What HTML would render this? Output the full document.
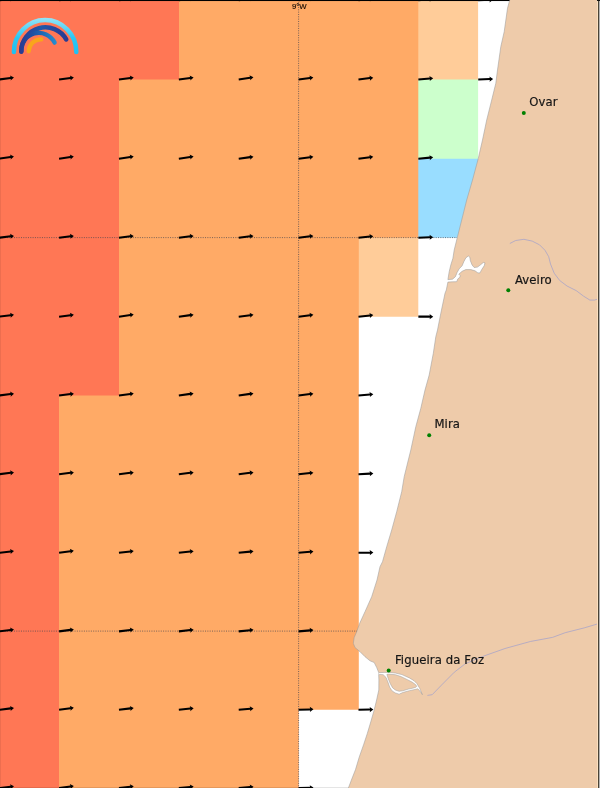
<!DOCTYPE html>
<html><head><meta charset="utf-8"><title>Wind map</title>
<style>
html,body{margin:0;padding:0;background:#fff;}
body{width:600px;height:788px;overflow:hidden;}
svg{display:block;font-family:"DejaVu Sans","Liberation Sans",sans-serif;}
</style></head><body>
<svg width="600" height="788" viewBox="0 0 600 788">
<rect x="0" y="0" width="600" height="788" fill="#fff"/>
<path d="M417.30,0.25 L478.10,0.25 L478.10,80.50 L417.30,80.50Z" fill="#FFCC99"/>
<path d="M417.30,79.50 L478.10,79.50 L478.10,159.65 L417.30,159.65Z" fill="#CCFFCC"/>
<path d="M417.30,158.65 L478.10,158.65 L478.10,237.70 L417.30,237.70Z" fill="#99DDFF"/>
<path d="M357.80,236.70 L418.30,236.70 L418.30,316.64 L357.80,316.64Z" fill="#FFCC99"/>
<path d="M-0.80,0.25 L418.30,0.25 L418.30,237.70 L358.80,237.70 L358.80,709.80 L298.80,709.80 L298.80,788.12 L-0.80,788.12Z" fill="#FFAA66"/>
<path d="M-0.80,0.25 L179.00,0.25 L179.00,79.50 L119.00,79.50 L119.00,395.48 L59.00,395.48 L59.00,788.12 L-0.80,788.12Z" fill="#FF7755"/>
<rect x="0" y="787" width="600" height="1" fill="#000" fill-opacity="0.1"/>
<path d="M509.7,-2.0 L509.7,0.0 L507.5,8.3 L504.2,31.7 L500.8,46.7 L497.5,70.0 L495.8,83.3 L491.7,100.0 L486.7,120.0 L482.5,140.0 L478.3,158.3 L472.5,180.0 L466.7,200.0 L461.7,220.0 L457.5,236.7 L454.2,250.0 L452.9,258.3 L450.8,265.0 L449.2,271.7 L447.9,279.6 L452.5,279.2 L455.4,276.7 L457.1,272.5 L459.2,268.8 L462.1,265.8 L463.8,261.7 L465.8,257.9 L468.3,256.0 L469.8,257.1 L470.4,260.8 L472.1,265.0 L474.2,267.5 L477.5,267.1 L480.8,264.6 L483.3,262.5 L485.0,262.9 L484.2,265.8 L481.7,269.6 L480.0,272.9 L477.9,272.9 L475.0,270.8 L470.8,269.6 L465.8,269.6 L462.1,271.3 L458.8,274.2 L460.4,275.8 L459.6,277.5 L457.9,278.8 L456.7,281.7 L452.5,281.8 L447.9,282.1 L446.3,290.0 L445.0,293.3 L440.8,313.3 L437.5,330.0 L435.8,336.7 L433.3,353.3 L429.2,375.0 L425.0,390.0 L420.8,408.3 L415.8,426.7 L410.8,450.0 L408.3,460.0 L404.2,476.7 L401.7,491.7 L396.7,511.7 L391.7,530.0 L386.7,546.7 L382.5,561.7 L380.0,566.7 L377.0,580.0 L371.7,596.7 L365.0,611.7 L359.7,623.3 L356.7,631.7 L354.2,637.5 L353.3,643.3 L355.0,647.5 L360.0,651.7 L365.0,656.7 L370.0,660.8 L374.2,662.5 L376.7,667.5 L378.7,672.5 L378.7,674.7 L378.9,680.0 L378.8,690.0 L376.6,700.0 L374.2,709.9 L371.0,721.1 L367.3,733.5 L363.6,744.7 L359.2,757.2 L355.5,769.6 L351.1,780.8 L348.4,788.0 L347.6,790.0 L600.0,790.0 L600.0,-2.0Z" fill="#EECBAA" stroke="#9c9c9c" stroke-width="0.55" stroke-linejoin="round"/>
<path d="M379.3,672.7 L384.1,672.4 L388.8,672.4 L395.3,673.0 L401.9,674.6 L409.3,677.9 L414.0,680.7 L416.8,683.5 L419.6,688.1 L422.4,694.7 L420.6,691.9 L417.8,688.8 L414.0,689.7 L409.3,690.7 L402.8,692.5 L399.1,694.2 L395.3,692.9 L392.1,690.9 L389.7,687.2 L387.9,682.1 L386.0,677.4 L383.2,674.7 L379.3,674.4Z" fill="#fff" stroke="#9a9a9a" stroke-width="0.5" stroke-linejoin="round"/>
<path d="M386.9,674.4 L388.3,674.1 L395.3,674.7 L400.9,676.5 L407.5,679.7 L412.1,682.1 L415.4,684.4 L416.8,686.3 L415.9,687.2 L413.1,688.1 L408.4,689.1 L402.8,690.8 L399.1,691.3 L395.3,690.0 L392.5,687.7 L390.2,683.5 L388.3,678.8Z" fill="#EECBAA" stroke="#9a9a9a" stroke-width="0.5" stroke-linejoin="round"/>
<path d="M378.6,672.7 L380.5,673.6 L378.6,674.5Z" fill="#fff"/>
<path d="M427.4,695.4 L432.2,694.7 L441.7,684.9 L454.3,672.2 L465.4,663.7 L482.8,656.4 L505,648.5 L530.3,641.5 L552.5,637.4 L565.2,632.7 L584.2,627.9 L600,623.2" fill="none" stroke="#a9a4c8" stroke-width="0.8"/>
<path d="M509.8,243.5 L515.7,240.5 L523.9,239.3 L532.2,241.1 L539.5,244.8 L545,250.3 L548.7,256.7 L550.5,264 L554.2,273.2 L559.7,280.5 L567,286 L576.2,290.6 L583.5,296.1 L589.9,300.1 L594.5,300.1 L597.3,299.2" fill="none" stroke="#a9a4c8" stroke-width="0.8"/>
<rect x="597" y="0" width="1" height="788" fill="#fbe0c0"/>
<rect x="598" y="0" width="1" height="788" fill="#4a4336"/>
<rect x="599" y="0" width="1" height="788" fill="#b2b2b2"/><rect x="597" y="0" width="3" height="1" fill="#111"/>
<text x="299.3" y="9.4" font-size="7.8" text-anchor="middle" fill="#140a00" stroke="#140a00" stroke-width="0.15" style="font-family:'Liberation Sans','DejaVu Sans',sans-serif">9°W</text>
<path d="M298.6,0 V788" stroke="#45454f" stroke-opacity="0.85" stroke-width="0.85" stroke-dasharray="1 1.33" fill="none"/>
<path d="M0,237.6 H457" stroke="#45454f" stroke-opacity="0.85" stroke-width="0.85" stroke-dasharray="1 1.33" fill="none"/>
<path d="M0,631.1 H357" stroke="#45454f" stroke-opacity="0.85" stroke-width="0.85" stroke-dasharray="1 1.33" fill="none"/>
<g fill="#000">
<path d="M0.00,-1.02 L11.60,-1.02 L11.20,-2.55 L14.90,0.00 L11.20,2.55 L11.60,1.02 L0.00,1.02Z" transform="translate(-0.80,0.25) rotate(-7.0)"/>
<path d="M0.00,-1.02 L11.60,-1.02 L11.20,-2.55 L14.90,0.00 L11.20,2.55 L11.60,1.02 L0.00,1.02Z" transform="translate(59.08,0.25) rotate(-7.0)"/>
<path d="M0.00,-1.02 L11.60,-1.02 L11.20,-2.55 L14.90,0.00 L11.20,2.55 L11.60,1.02 L0.00,1.02Z" transform="translate(118.96,0.25) rotate(-7.0)"/>
<path d="M0.00,-1.02 L11.60,-1.02 L11.20,-2.55 L14.90,0.00 L11.20,2.55 L11.60,1.02 L0.00,1.02Z" transform="translate(178.84,0.25) rotate(-8.0)"/>
<path d="M0.00,-1.02 L11.60,-1.02 L11.20,-2.55 L14.90,0.00 L11.20,2.55 L11.60,1.02 L0.00,1.02Z" transform="translate(238.72,0.25) rotate(-8.0)"/>
<path d="M0.00,-1.02 L11.60,-1.02 L11.20,-2.55 L14.90,0.00 L11.20,2.55 L11.60,1.02 L0.00,1.02Z" transform="translate(298.60,0.25) rotate(-8.0)"/>
<path d="M0.00,-1.02 L11.60,-1.02 L11.20,-2.55 L14.90,0.00 L11.20,2.55 L11.60,1.02 L0.00,1.02Z" transform="translate(358.48,0.25) rotate(-7.0)"/>
<path d="M0.00,-1.02 L11.60,-1.02 L11.20,-2.55 L14.90,0.00 L11.20,2.55 L11.60,1.02 L0.00,1.02Z" transform="translate(418.36,0.25) rotate(-5.0)"/>
<path d="M0.00,-1.02 L11.60,-1.02 L11.20,-2.55 L14.90,0.00 L11.20,2.55 L11.60,1.02 L0.00,1.02Z" transform="translate(478.24,0.25) rotate(-2.0)"/>
<path d="M0.00,-1.02 L11.60,-1.02 L11.20,-2.55 L14.90,0.00 L11.20,2.55 L11.60,1.02 L0.00,1.02Z" transform="translate(-0.80,79.50) rotate(-7.5)"/>
<path d="M0.00,-1.02 L11.60,-1.02 L11.20,-2.55 L14.90,0.00 L11.20,2.55 L11.60,1.02 L0.00,1.02Z" transform="translate(59.08,79.50) rotate(-7.5)"/>
<path d="M0.00,-1.02 L11.60,-1.02 L11.20,-2.55 L14.90,0.00 L11.20,2.55 L11.60,1.02 L0.00,1.02Z" transform="translate(118.96,79.50) rotate(-7.5)"/>
<path d="M0.00,-1.02 L11.60,-1.02 L11.20,-2.55 L14.90,0.00 L11.20,2.55 L11.60,1.02 L0.00,1.02Z" transform="translate(178.84,79.50) rotate(-8.0)"/>
<path d="M0.00,-1.02 L11.60,-1.02 L11.20,-2.55 L14.90,0.00 L11.20,2.55 L11.60,1.02 L0.00,1.02Z" transform="translate(238.72,79.50) rotate(-8.5)"/>
<path d="M0.00,-1.02 L11.60,-1.02 L11.20,-2.55 L14.90,0.00 L11.20,2.55 L11.60,1.02 L0.00,1.02Z" transform="translate(298.60,79.50) rotate(-8.0)"/>
<path d="M0.00,-1.02 L11.60,-1.02 L11.20,-2.55 L14.90,0.00 L11.20,2.55 L11.60,1.02 L0.00,1.02Z" transform="translate(358.48,79.50) rotate(-7.0)"/>
<path d="M0.00,-1.02 L11.60,-1.02 L11.20,-2.55 L14.90,0.00 L11.20,2.55 L11.60,1.02 L0.00,1.02Z" transform="translate(418.36,79.50) rotate(-5.0)"/>
<path d="M0.00,-1.02 L11.60,-1.02 L11.20,-2.55 L14.90,0.00 L11.20,2.55 L11.60,1.02 L0.00,1.02Z" transform="translate(478.24,79.50) rotate(-2.0)"/>
<path d="M0.00,-1.02 L11.60,-1.02 L11.20,-2.55 L14.90,0.00 L11.20,2.55 L11.60,1.02 L0.00,1.02Z" transform="translate(-0.80,158.65) rotate(-8.0)"/>
<path d="M0.00,-1.02 L11.60,-1.02 L11.20,-2.55 L14.90,0.00 L11.20,2.55 L11.60,1.02 L0.00,1.02Z" transform="translate(59.08,158.65) rotate(-8.5)"/>
<path d="M0.00,-1.02 L11.60,-1.02 L11.20,-2.55 L14.90,0.00 L11.20,2.55 L11.60,1.02 L0.00,1.02Z" transform="translate(118.96,158.65) rotate(-8.5)"/>
<path d="M0.00,-1.02 L11.60,-1.02 L11.20,-2.55 L14.90,0.00 L11.20,2.55 L11.60,1.02 L0.00,1.02Z" transform="translate(178.84,158.65) rotate(-8.0)"/>
<path d="M0.00,-1.02 L11.60,-1.02 L11.20,-2.55 L14.90,0.00 L11.20,2.55 L11.60,1.02 L0.00,1.02Z" transform="translate(238.72,158.65) rotate(-7.5)"/>
<path d="M0.00,-1.02 L11.60,-1.02 L11.20,-2.55 L14.90,0.00 L11.20,2.55 L11.60,1.02 L0.00,1.02Z" transform="translate(298.60,158.65) rotate(-7.0)"/>
<path d="M0.00,-1.02 L11.60,-1.02 L11.20,-2.55 L14.90,0.00 L11.20,2.55 L11.60,1.02 L0.00,1.02Z" transform="translate(358.48,158.65) rotate(-7.0)"/>
<path d="M0.00,-1.02 L11.60,-1.02 L11.20,-2.55 L14.90,0.00 L11.20,2.55 L11.60,1.02 L0.00,1.02Z" transform="translate(418.36,158.65) rotate(-5.0)"/>
<path d="M0.00,-1.02 L11.60,-1.02 L11.20,-2.55 L14.90,0.00 L11.20,2.55 L11.60,1.02 L0.00,1.02Z" transform="translate(-0.80,237.70) rotate(-7.0)"/>
<path d="M0.00,-1.02 L11.60,-1.02 L11.20,-2.55 L14.90,0.00 L11.20,2.55 L11.60,1.02 L0.00,1.02Z" transform="translate(59.08,237.70) rotate(-7.0)"/>
<path d="M0.00,-1.02 L11.60,-1.02 L11.20,-2.55 L14.90,0.00 L11.20,2.55 L11.60,1.02 L0.00,1.02Z" transform="translate(118.96,237.70) rotate(-7.0)"/>
<path d="M0.00,-1.02 L11.60,-1.02 L11.20,-2.55 L14.90,0.00 L11.20,2.55 L11.60,1.02 L0.00,1.02Z" transform="translate(178.84,237.70) rotate(-7.0)"/>
<path d="M0.00,-1.02 L11.60,-1.02 L11.20,-2.55 L14.90,0.00 L11.20,2.55 L11.60,1.02 L0.00,1.02Z" transform="translate(238.72,237.70) rotate(-7.0)"/>
<path d="M0.00,-1.02 L11.60,-1.02 L11.20,-2.55 L14.90,0.00 L11.20,2.55 L11.60,1.02 L0.00,1.02Z" transform="translate(298.60,237.70) rotate(-7.0)"/>
<path d="M0.00,-1.02 L11.60,-1.02 L11.20,-2.55 L14.90,0.00 L11.20,2.55 L11.60,1.02 L0.00,1.02Z" transform="translate(358.48,237.70) rotate(-6.0)"/>
<path d="M0.00,-1.02 L11.60,-1.02 L11.20,-2.55 L14.90,0.00 L11.20,2.55 L11.60,1.02 L0.00,1.02Z" transform="translate(418.36,237.70) rotate(-2.0)"/>
<path d="M0.00,-1.02 L11.60,-1.02 L11.20,-2.55 L14.90,0.00 L11.20,2.55 L11.60,1.02 L0.00,1.02Z" transform="translate(-0.80,316.64) rotate(-7.0)"/>
<path d="M0.00,-1.02 L11.60,-1.02 L11.20,-2.55 L14.90,0.00 L11.20,2.55 L11.60,1.02 L0.00,1.02Z" transform="translate(59.08,316.64) rotate(-7.0)"/>
<path d="M0.00,-1.02 L11.60,-1.02 L11.20,-2.55 L14.90,0.00 L11.20,2.55 L11.60,1.02 L0.00,1.02Z" transform="translate(118.96,316.64) rotate(-8.0)"/>
<path d="M0.00,-1.02 L11.60,-1.02 L11.20,-2.55 L14.90,0.00 L11.20,2.55 L11.60,1.02 L0.00,1.02Z" transform="translate(178.84,316.64) rotate(-7.5)"/>
<path d="M0.00,-1.02 L11.60,-1.02 L11.20,-2.55 L14.90,0.00 L11.20,2.55 L11.60,1.02 L0.00,1.02Z" transform="translate(238.72,316.64) rotate(-7.0)"/>
<path d="M0.00,-1.02 L11.60,-1.02 L11.20,-2.55 L14.90,0.00 L11.20,2.55 L11.60,1.02 L0.00,1.02Z" transform="translate(298.60,316.64) rotate(-7.0)"/>
<path d="M0.00,-1.02 L11.60,-1.02 L11.20,-2.55 L14.90,0.00 L11.20,2.55 L11.60,1.02 L0.00,1.02Z" transform="translate(358.48,316.64) rotate(-6.0)"/>
<path d="M0.00,-1.02 L11.60,-1.02 L11.20,-2.55 L14.90,0.00 L11.20,2.55 L11.60,1.02 L0.00,1.02Z" transform="translate(418.36,316.64) rotate(0.0)"/>
<path d="M0.00,-1.02 L11.60,-1.02 L11.20,-2.55 L14.90,0.00 L11.20,2.55 L11.60,1.02 L0.00,1.02Z" transform="translate(-0.80,395.48) rotate(-7.0)"/>
<path d="M0.00,-1.02 L11.60,-1.02 L11.20,-2.55 L14.90,0.00 L11.20,2.55 L11.60,1.02 L0.00,1.02Z" transform="translate(59.08,395.48) rotate(-7.0)"/>
<path d="M0.00,-1.02 L11.60,-1.02 L11.20,-2.55 L14.90,0.00 L11.20,2.55 L11.60,1.02 L0.00,1.02Z" transform="translate(118.96,395.48) rotate(-7.5)"/>
<path d="M0.00,-1.02 L11.60,-1.02 L11.20,-2.55 L14.90,0.00 L11.20,2.55 L11.60,1.02 L0.00,1.02Z" transform="translate(178.84,395.48) rotate(-8.0)"/>
<path d="M0.00,-1.02 L11.60,-1.02 L11.20,-2.55 L14.90,0.00 L11.20,2.55 L11.60,1.02 L0.00,1.02Z" transform="translate(238.72,395.48) rotate(-8.0)"/>
<path d="M0.00,-1.02 L11.60,-1.02 L11.20,-2.55 L14.90,0.00 L11.20,2.55 L11.60,1.02 L0.00,1.02Z" transform="translate(298.60,395.48) rotate(-7.0)"/>
<path d="M0.00,-1.02 L11.60,-1.02 L11.20,-2.55 L14.90,0.00 L11.20,2.55 L11.60,1.02 L0.00,1.02Z" transform="translate(358.48,395.48) rotate(-5.0)"/>
<path d="M0.00,-1.02 L11.60,-1.02 L11.20,-2.55 L14.90,0.00 L11.20,2.55 L11.60,1.02 L0.00,1.02Z" transform="translate(-0.80,474.22) rotate(-7.0)"/>
<path d="M0.00,-1.02 L11.60,-1.02 L11.20,-2.55 L14.90,0.00 L11.20,2.55 L11.60,1.02 L0.00,1.02Z" transform="translate(59.08,474.22) rotate(-7.0)"/>
<path d="M0.00,-1.02 L11.60,-1.02 L11.20,-2.55 L14.90,0.00 L11.20,2.55 L11.60,1.02 L0.00,1.02Z" transform="translate(118.96,474.22) rotate(-7.0)"/>
<path d="M0.00,-1.02 L11.60,-1.02 L11.20,-2.55 L14.90,0.00 L11.20,2.55 L11.60,1.02 L0.00,1.02Z" transform="translate(178.84,474.22) rotate(-7.0)"/>
<path d="M0.00,-1.02 L11.60,-1.02 L11.20,-2.55 L14.90,0.00 L11.20,2.55 L11.60,1.02 L0.00,1.02Z" transform="translate(238.72,474.22) rotate(-7.0)"/>
<path d="M0.00,-1.02 L11.60,-1.02 L11.20,-2.55 L14.90,0.00 L11.20,2.55 L11.60,1.02 L0.00,1.02Z" transform="translate(298.60,474.22) rotate(-6.0)"/>
<path d="M0.00,-1.02 L11.60,-1.02 L11.20,-2.55 L14.90,0.00 L11.20,2.55 L11.60,1.02 L0.00,1.02Z" transform="translate(358.48,474.22) rotate(-3.0)"/>
<path d="M0.00,-1.02 L11.60,-1.02 L11.20,-2.55 L14.90,0.00 L11.20,2.55 L11.60,1.02 L0.00,1.02Z" transform="translate(-0.80,552.85) rotate(-7.0)"/>
<path d="M0.00,-1.02 L11.60,-1.02 L11.20,-2.55 L14.90,0.00 L11.20,2.55 L11.60,1.02 L0.00,1.02Z" transform="translate(59.08,552.85) rotate(-8.0)"/>
<path d="M0.00,-1.02 L11.60,-1.02 L11.20,-2.55 L14.90,0.00 L11.20,2.55 L11.60,1.02 L0.00,1.02Z" transform="translate(118.96,552.85) rotate(-7.0)"/>
<path d="M0.00,-1.02 L11.60,-1.02 L11.20,-2.55 L14.90,0.00 L11.20,2.55 L11.60,1.02 L0.00,1.02Z" transform="translate(178.84,552.85) rotate(-6.5)"/>
<path d="M0.00,-1.02 L11.60,-1.02 L11.20,-2.55 L14.90,0.00 L11.20,2.55 L11.60,1.02 L0.00,1.02Z" transform="translate(238.72,552.85) rotate(-6.0)"/>
<path d="M0.00,-1.02 L11.60,-1.02 L11.20,-2.55 L14.90,0.00 L11.20,2.55 L11.60,1.02 L0.00,1.02Z" transform="translate(298.60,552.85) rotate(-5.0)"/>
<path d="M0.00,-1.02 L11.60,-1.02 L11.20,-2.55 L14.90,0.00 L11.20,2.55 L11.60,1.02 L0.00,1.02Z" transform="translate(358.48,552.85) rotate(-1.0)"/>
<path d="M0.00,-1.02 L11.60,-1.02 L11.20,-2.55 L14.90,0.00 L11.20,2.55 L11.60,1.02 L0.00,1.02Z" transform="translate(-0.80,631.38) rotate(-7.0)"/>
<path d="M0.00,-1.02 L11.60,-1.02 L11.20,-2.55 L14.90,0.00 L11.20,2.55 L11.60,1.02 L0.00,1.02Z" transform="translate(59.08,631.38) rotate(-7.5)"/>
<path d="M0.00,-1.02 L11.60,-1.02 L11.20,-2.55 L14.90,0.00 L11.20,2.55 L11.60,1.02 L0.00,1.02Z" transform="translate(118.96,631.38) rotate(-7.0)"/>
<path d="M0.00,-1.02 L11.60,-1.02 L11.20,-2.55 L14.90,0.00 L11.20,2.55 L11.60,1.02 L0.00,1.02Z" transform="translate(178.84,631.38) rotate(-6.5)"/>
<path d="M0.00,-1.02 L11.60,-1.02 L11.20,-2.55 L14.90,0.00 L11.20,2.55 L11.60,1.02 L0.00,1.02Z" transform="translate(238.72,631.38) rotate(-6.0)"/>
<path d="M0.00,-1.02 L11.60,-1.02 L11.20,-2.55 L14.90,0.00 L11.20,2.55 L11.60,1.02 L0.00,1.02Z" transform="translate(298.60,631.38) rotate(-5.0)"/>
<path d="M0.00,-1.02 L11.60,-1.02 L11.20,-2.55 L14.90,0.00 L11.20,2.55 L11.60,1.02 L0.00,1.02Z" transform="translate(-0.80,709.80) rotate(-7.0)"/>
<path d="M0.00,-1.02 L11.60,-1.02 L11.20,-2.55 L14.90,0.00 L11.20,2.55 L11.60,1.02 L0.00,1.02Z" transform="translate(59.08,709.80) rotate(-8.0)"/>
<path d="M0.00,-1.02 L11.60,-1.02 L11.20,-2.55 L14.90,0.00 L11.20,2.55 L11.60,1.02 L0.00,1.02Z" transform="translate(118.96,709.80) rotate(-7.0)"/>
<path d="M0.00,-1.02 L11.60,-1.02 L11.20,-2.55 L14.90,0.00 L11.20,2.55 L11.60,1.02 L0.00,1.02Z" transform="translate(178.84,709.80) rotate(-6.0)"/>
<path d="M0.00,-1.02 L11.60,-1.02 L11.20,-2.55 L14.90,0.00 L11.20,2.55 L11.60,1.02 L0.00,1.02Z" transform="translate(238.72,709.80) rotate(-5.0)"/>
<path d="M0.00,-1.02 L11.60,-1.02 L11.20,-2.55 L14.90,0.00 L11.20,2.55 L11.60,1.02 L0.00,1.02Z" transform="translate(298.60,709.80) rotate(-2.0)"/>
<path d="M0.00,-1.02 L11.60,-1.02 L11.20,-2.55 L14.90,0.00 L11.20,2.55 L11.60,1.02 L0.00,1.02Z" transform="translate(358.48,709.80) rotate(-1.0)"/>
<path d="M0.00,-1.02 L11.60,-1.02 L11.20,-2.55 L14.90,0.00 L11.20,2.55 L11.60,1.02 L0.00,1.02Z" transform="translate(-0.80,788.12) rotate(-7.0)"/>
<path d="M0.00,-1.02 L11.60,-1.02 L11.20,-2.55 L14.90,0.00 L11.20,2.55 L11.60,1.02 L0.00,1.02Z" transform="translate(59.08,788.12) rotate(-8.0)"/>
<path d="M0.00,-1.02 L11.60,-1.02 L11.20,-2.55 L14.90,0.00 L11.20,2.55 L11.60,1.02 L0.00,1.02Z" transform="translate(118.96,788.12) rotate(-7.0)"/>
<path d="M0.00,-1.02 L11.60,-1.02 L11.20,-2.55 L14.90,0.00 L11.20,2.55 L11.60,1.02 L0.00,1.02Z" transform="translate(178.84,788.12) rotate(-6.0)"/>
<path d="M0.00,-1.02 L11.60,-1.02 L11.20,-2.55 L14.90,0.00 L11.20,2.55 L11.60,1.02 L0.00,1.02Z" transform="translate(238.72,788.12) rotate(-5.0)"/>
<path d="M0.00,-1.02 L11.60,-1.02 L11.20,-2.55 L14.90,0.00 L11.20,2.55 L11.60,1.02 L0.00,1.02Z" transform="translate(298.60,788.12) rotate(-2.0)"/>
</g>
<rect x="0" y="-1" width="509.5" height="2.04" fill="#000"/>
<rect x="0" y="0" width="1" height="788" fill="#000" fill-opacity="0.07"/>
<circle cx="523.8" cy="113.0" r="2.0" fill="#008000"/>
<text x="529.3" y="106.0" font-size="11.67" letter-spacing="0.1" fill="#151515" stroke="#151515" stroke-width="0.2">Ovar</text>
<circle cx="508.3" cy="290.2" r="2.0" fill="#008000"/>
<text x="514.9" y="283.6" font-size="11.67" letter-spacing="0.1" fill="#151515" stroke="#151515" stroke-width="0.2">Aveiro</text>
<circle cx="429.2" cy="435.3" r="2.0" fill="#008000"/>
<text x="434.4" y="427.5" font-size="11.67" letter-spacing="0.1" fill="#151515" stroke="#151515" stroke-width="0.2">Mira</text>
<circle cx="388.7" cy="670.4" r="2.0" fill="#008000"/>
<text x="394.9" y="664.2" font-size="11.67" letter-spacing="0.1" fill="#151515" stroke="#151515" stroke-width="0.2">Figueira da Foz</text>
<defs>
<linearGradient id="gc" gradientUnits="userSpaceOnUse" x1="0" y1="18" x2="0" y2="54"><stop offset="0" stop-color="#93e4f8"/><stop offset="0.55" stop-color="#2cc6f3"/><stop offset="1" stop-color="#1fc0f2"/></linearGradient>
<linearGradient id="gb" gradientUnits="userSpaceOnUse" x1="19" y1="0" x2="68" y2="0"><stop offset="0" stop-color="#2b3990"/><stop offset="0.2" stop-color="#27459b"/><stop offset="0.45" stop-color="#1d5aaa"/><stop offset="0.75" stop-color="#27459b"/><stop offset="1" stop-color="#2b3990"/></linearGradient>
<linearGradient id="gm" gradientUnits="userSpaceOnUse" x1="19" y1="0" x2="57" y2="0"><stop offset="0" stop-color="#2b3990"/><stop offset="0.35" stop-color="#214fa2"/><stop offset="0.6" stop-color="#1d68b4"/><stop offset="1" stop-color="#2a8fd0"/></linearGradient>
</defs>
<g fill="none" stroke-linecap="round">
<path d="M13.9,51.9 A31.2,31.8 0 0 1 76.3,51.9" stroke="url(#gc)" stroke-width="4.5"/>
<path d="M21.3,51.6 A24.05,24.05 0 0 1 66.2,39.4" stroke="url(#gb)" stroke-width="4.6"/>
<path d="M21.3,51.6 A17.6,17.6 0 0 1 54.6,42.6" stroke="url(#gm)" stroke-width="4.4"/>
<path d="M28.7,51.3 A12.1,12.1 0 0 1 41.3,39.4" stroke="#f9a51c" stroke-width="4.3"/>
</g>
</svg>
</body></html>
